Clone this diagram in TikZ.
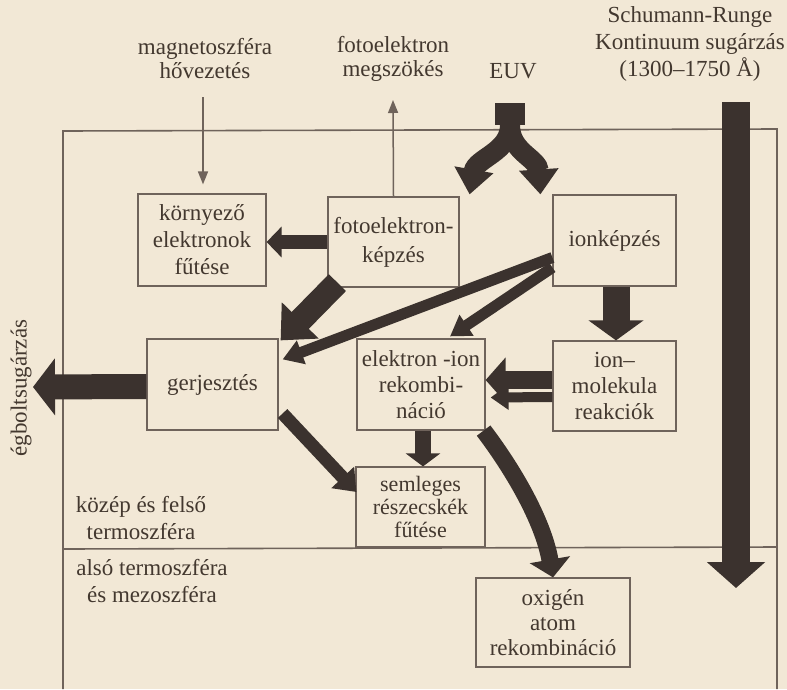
\documentclass[tikz,border=0pt]{standalone}
\usepackage{fontspec}
\setmainfont{Liberation Serif}
\usetikzlibrary{arrows.meta}
\definecolor{bg}{HTML}{F2E8D6}
\definecolor{ink}{HTML}{3B322E}
\definecolor{txt}{HTML}{43382F}
\definecolor{frm}{HTML}{6F635B}
\begin{document}
\begin{tikzpicture}[x=1pt,y=-1pt,
  box/.style={draw=frm, line width=1.2pt, inner sep=0pt, align=center, text=txt,
    font=\fontsize{23}{27}\selectfont},
  lbl/.style={align=center, text=txt, inner sep=0pt, font=\fontsize{23}{24}\selectfont},
  fat/.style={draw=ink, line cap=butt},
  thinarr/.style={draw=frm, line width=1.5pt, -{Triangle[width=10pt,length=13pt]}},
  frame/.style={draw=frm, line width=1.6pt},
]
\fill[bg] (0,0) rectangle (787,689);
\useasboundingbox (0,0) rectangle (787,689);

% frame
\draw[frame] (63,689) -- (63,131) -- (777,129) -- (777,689);
\draw[frame] (63,549) -- (777,547);

% labels
\node[lbl] (mag) at (205,59) {magnetoszféra\\hővezetés};
\node[lbl] (fesc) at (393,59) {fotoelektron\\megszökés};
\node[lbl] (euv) at (513,71) {EUV};
\node[lbl, font=\fontsize{23}{27}\selectfont] (sch) at (690,44) {Schumann-Runge\\Kontinuum sugárzás\\(1300–1750 Å)};
\node[lbl, rotate=90] (sky) at (21,388) {égboltsugárzás};
\node[lbl, font=\fontsize{23}{27}\selectfont] (upper) at (141,518) {közép és felső\\termoszféra};
\node[lbl, font=\fontsize{23}{27}\selectfont] (lower) at (152,581) {alsó termoszféra\\és mezoszféra};

% boxes
\node[box, minimum width=128pt, minimum height=92pt] (kf) at (202,240) {környező\\elektronok\\fűtése};
\node[box, minimum width=131pt, minimum height=90pt, font=\fontsize{23}{29}\selectfont] (fk) at (393.5,242) {fotoelektron-\\képzés};
\node[box, minimum width=123pt, minimum height=91pt] (ik) at (614.5,240.5) {ionképzés};
\node[box, minimum width=131pt, minimum height=91pt] (gj) at (212.5,384.5) {gerjesztés};
\node[box, minimum width=128pt, minimum height=91pt, font=\fontsize{23}{26}\selectfont] (er) at (421,384.5) {elektron -ion\\rekombi-\\náció};
\node[box, minimum width=123pt, minimum height=90pt, font=\fontsize{23}{26}\selectfont] (im) at (614.5,386) {ion–\\molekula\\reakciók};
\node[box, minimum width=129pt, minimum height=80pt, font=\fontsize{22}{23}\selectfont] (sr) at (420.5,507) {semleges\\részecskék\\fűtése};
\node[box, minimum width=154pt, minimum height=89pt, font=\fontsize{23}{25}\selectfont] (oa) at (553,622.5) {oxigén\\atom\\rekombináció};

% free ends
\coordinate (magtop) at (203,97);
\coordinate (fesctop) at (393,100);
\coordinate (euvtop) at (510,103);
\coordinate (euvsplit) at (510,125);
\coordinate (schtop) at (736,102);
\coordinate (schbot) at (736,588);
\coordinate (skyend) at (33,387);

% thin arrows
\draw[thinarr] (magtop) -- ([yshift=9pt]kf.north -| magtop);
\draw[thinarr] (fk.north) -- (fesctop);

% EUV
\draw[fat, line width=30pt] (euvtop) -- (euvsplit);
\draw[fat, line width=20pt, -{Triangle[width=38pt,length=25pt]}]
  (euvsplit) .. controls (510,152) and (476,158) .. ([xshift=10pt,yshift=2pt]fk.north east);
\draw[fat, line width=20pt, -{Triangle[width=38pt,length=25pt]}]
  (euvsplit) .. controls (510,152) and (538,158) .. ([xshift=-12pt]ik.north west);

% Schumann-Runge
\draw[fat, line width=28pt, -{Triangle[width=57pt,length=26pt]}] (schtop) -- (schbot);

% sky radiation
\draw[fat, line width=25pt, -{Triangle[width=56pt,length=22pt]}] ([yshift=-2pt]gj.west) -- (skyend);

% photoelectron -> ambient electron heating
\draw[fat, line width=14pt, -{Triangle[width=30pt,length=15pt]}] (fk.west) -- (fk.west -| kf.east);

% photoelectron -> excitation
\draw[fat, line width=24pt, -{Triangle[width=50pt,length=28pt]}]
  ([xshift=10pt,yshift=5pt]fk.south west) -- ([xshift=2pt,yshift=-2pt]gj.north east);

% ion formation -> excitation / recombination
\draw[fat, line width=11pt, -{Triangle[width=24pt,length=20pt]}]
  ([yshift=-17pt]ik.west) -- ([xshift=4pt,yshift=-21pt]gj.north east);
\draw[fat, line width=11pt, -{Triangle[width=24pt,length=20pt]}]
  ([yshift=-27pt]ik.west) -- ([xshift=29pt,yshift=2pt]er.north);

% ion formation -> ion-molecule
\draw[fat, line width=27pt, -{Triangle[width=54pt,length=20pt]}]
  ([xshift=1.5pt]ik.south) -- ([xshift=1.5pt]im.north);

% ion-molecule -> recombination (double arrow)
\draw[fat, line width=10pt, -{Triangle[width=24pt,length=18pt]}]
  ([yshift=-11pt]im.west) -- ([xshift=5pt,yshift=-13pt]er.east);
\draw[fat, line width=18pt, -{Triangle[width=44pt,length=20pt]}]
  ([yshift=6pt]im.west) -- ([yshift=4.5pt]er.east);

% recombination -> neutral heating
\draw[fat, line width=16pt, -{Triangle[width=34pt,length=13pt]}]
  ([xshift=2pt]er.south) -- ([xshift=2.5pt]sr.north);

% excitation -> neutral heating
\draw[fat, line width=13pt, -{Triangle[width=30pt,length=20pt]}]
  ([xshift=4pt,yshift=-29pt]gj.east) -- ([xshift=1pt,yshift=15pt]sr.west);

% recombination -> oxygen atom recombination
\draw[fat, line width=17pt, -{Triangle[width=40pt,length=18pt]}]
  ([xshift=-2pt]er.south east) .. controls (512,468) and (543,520) .. (oa.north);

\end{tikzpicture}
\end{document}
